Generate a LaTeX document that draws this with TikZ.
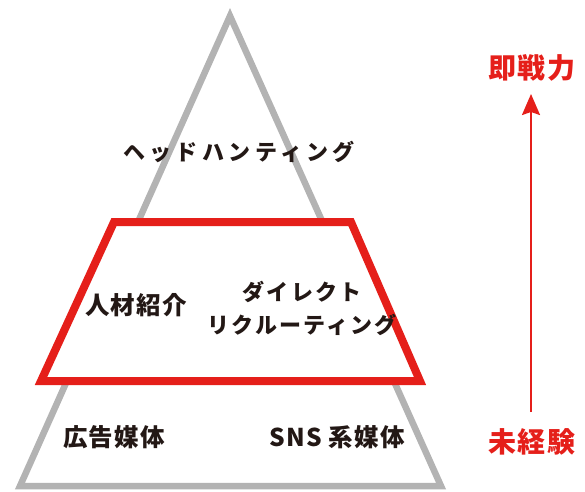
\documentclass[tikz,border=0pt]{standalone}
\usepackage{fontspec}
\setmainfont{Noto Sans CJK JP}
\newfontfamily\jpwide{Noto Sans CJK JP}[LetterSpace=20]
\newfontfamily\jpmid{Noto Sans CJK JP}[LetterSpace=10]
\newfontfamily\jpnarrow{Noto Sans CJK JP}[LetterSpace=5]
\usetikzlibrary{arrows.meta}
\definecolor{pgray}{HTML}{B3B3B3}
\definecolor{pred}{HTML}{E51F1A}
\definecolor{ink}{HTML}{231815}
\tikzset{
  tri/.style={draw=pgray, line width=6.5pt, line join=miter},
  trap/.style={draw=pred, fill=white, line width=8pt, line join=miter},
  lblwide/.style={inner sep=0pt, text=ink, font=\jpwide\bfseries\fontsize{22}{24}\selectfont},
  lblmid/.style={inner sep=0pt, text=ink, font=\jpmid\bfseries\fontsize{22}{24}\selectfont},
  lblkanji/.style={inner sep=0pt, text=ink, font=\jpnarrow\bfseries\fontsize{24.5}{26}\selectfont},
  lblred/.style={inner sep=0pt, text=pred, font=\jpnarrow\bfseries\fontsize{28}{30}\selectfont},
  axisarrow/.style={draw=pred, line width=2pt, -{Stealth[length=21pt, width=18pt, inset=3pt]}}
}
\begin{document}
\begin{tikzpicture}[x=1pt,y=-1pt]
\useasboundingbox (0,0) rectangle (585,491);
% pyramid
\draw[tri] (230,16) -- (441,486) -- (20,486) -- cycle;
\draw[trap] (114,222) -- (351,222) -- (420,381) -- (41,381) -- cycle;
% labels
\node[lblwide] (head) at (239,152) {ヘッドハンティング};
\node[lblkanji] (jinzai) at (136,305) {人材紹介};
\node[lblmid] (direct1) at (302,292) {ダイレクト};
\node[lblmid] (direct2) at (302,325) {リクルーティング};
\node[lblkanji] (koukoku) at (114,437) {広告媒体};
\node[lblkanji] (sns) at (337,437) {SNS 系媒体};
% axis
\node[lblred] (high) at (532,68) {即戦力};
\node[lblred] (low) at (532,442) {未経験};
\coordinate (abottom) at (531,412);
\coordinate (atop) at (531,94);
\draw[axisarrow] (abottom) -- (atop);
\end{tikzpicture}
\end{document}
